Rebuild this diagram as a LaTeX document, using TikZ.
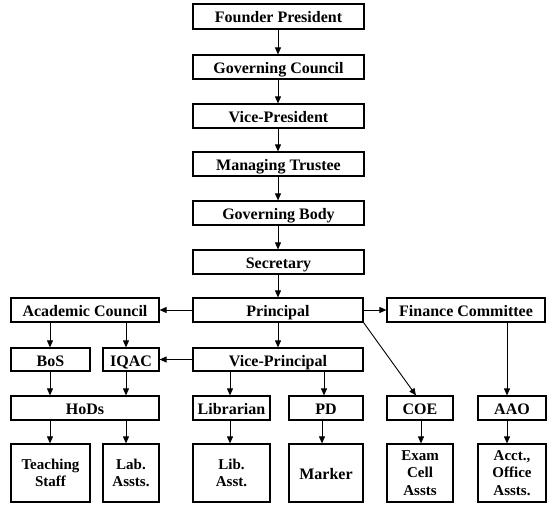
\documentclass[tikz,border=0pt]{standalone}
\usepackage{fontspec}
\setmainfont{Liberation Serif}
\usetikzlibrary{arrows.meta}
\begin{document}
\begin{tikzpicture}[x=1pt,y=-1pt,
  box/.style={draw, line width=1.2pt, inner sep=0pt, align=center,
    font=\bfseries\fontsize{16}{18}\selectfont},
  oneline/.style={box, text height=13pt, text depth=0pt},
  small/.style={box, font=\bfseries\fontsize{15}{17.5}\selectfont},
  arr/.style={line width=0.9pt, -{Triangle[length=7pt,width=6pt]}}]
\useasboundingbox (0,0) rectangle (553,510);
% top chain
\node[oneline, minimum width=171pt, minimum height=25pt] (fp) at (278.5,16.5) {Founder President};
\node[oneline, minimum width=171pt, minimum height=24pt] (gc) at (278.5,67) {Governing Council};
\node[oneline, minimum width=171pt, minimum height=24pt] (vp) at (278.5,116) {Vice-President};
\node[oneline, minimum width=171pt, minimum height=24pt] (mt) at (278.5,164) {Managing Trustee};
\node[oneline, minimum width=171pt, minimum height=24pt] (gb) at (278.5,213) {Governing Body};
\node[oneline, minimum width=171pt, minimum height=24pt] (sec) at (278.5,262) {Secretary};
% row principal
\node[oneline, minimum width=170pt, minimum height=24pt] (prin) at (278,310) {Principal};
\node[oneline, minimum width=148pt, minimum height=24pt] (ac) at (85,310) {Academic Council};
\node[oneline, minimum width=158pt, minimum height=24pt] (fc) at (466,310) {Finance Committee};
% row 3
\node[oneline, minimum width=79pt, minimum height=23pt] (bos) at (50.5,359.5) {BoS};
\node[oneline, minimum width=56pt, minimum height=23pt] (iqac) at (131,359.5) {IQAC};
\node[oneline, minimum width=170pt, minimum height=23pt] (vpr) at (278,359.5) {Vice-Principal};
% row 4
\node[oneline, minimum width=148pt, minimum height=24pt] (hods) at (85,408) {HoDs};
\node[oneline, minimum width=77pt, minimum height=24pt] (lib) at (231.5,408) {Librarian};
\node[oneline, minimum width=74pt, minimum height=24pt] (pd) at (326,408) {PD};
\node[oneline, minimum width=66pt, minimum height=24pt] (coe) at (420,408) {COE};
\node[oneline, minimum width=68pt, minimum height=24pt] (aao) at (512,408) {AAO};
% row 5
\node[small, minimum width=79pt, minimum height=58pt] (ts) at (50.5,473) {Teaching\\Staff};
\node[small, minimum width=56pt, minimum height=58pt] (lab) at (131,473) {Lab.\\Assts.};
\node[small, minimum width=77pt, minimum height=58pt] (libas) at (231.5,473) {Lib.\\Asst.};
\node[oneline, minimum width=74pt, minimum height=58pt] (mk) at (326,473) {Marker};
\node[small, minimum width=66pt, minimum height=58pt] (ex) at (420,473) {Exam\\Cell\\Assts};
\node[small, minimum width=68pt, minimum height=58pt] (acc) at (512,473) {Acct.,\\Office\\Assts.};
% column guides
\coordinate (xa) at (278,0);
\coordinate (xb) at (50,0);
\coordinate (xc) at (126,0);
\coordinate (xd) at (230,0);
\coordinate (xe) at (324,0);
\coordinate (xf) at (322,0);
\coordinate (xg) at (421,0);
\coordinate (xh) at (507,0);
% arrows top chain
\draw[arr] (fp.south -| xa) -- (gc.north -| xa);
\draw[arr] (gc.south -| xa) -- (vp.north -| xa);
\draw[arr] (vp.south -| xa) -- (mt.north -| xa);
\draw[arr] (mt.south -| xa) -- (gb.north -| xa);
\draw[arr] (gb.south -| xa) -- (sec.north -| xa);
\draw[arr] (sec.south -| xa) -- (prin.north -| xa);
% principal
\draw[arr] (prin.west) -- (ac.east);
\draw[arr] (prin.east) -- (fc.west);
\draw[arr] (prin.south -| xa) -- (vpr.north -| xa);
\draw[arr] (prin.south east) -- ([xshift=-4pt]coe.north);
% academic council
\draw[arr] (ac.south -| xb) -- (bos.north -| xb);
\draw[arr] (ac.south -| xc) -- (iqac.north -| xc);
\draw[arr] (vpr.west) -- (iqac.east);
\draw[arr] (bos.south -| xb) -- (hods.north -| xb);
\draw[arr] (iqac.south -| xc) -- (hods.north -| xc);
\draw[arr] (hods.south -| xb) -- (ts.north -| xb);
\draw[arr] (hods.south -| xc) -- (lab.north -| xc);
% vice-principal
\draw[arr] (vpr.south -| xd) -- (lib.north -| xd);
\draw[arr] (vpr.south -| xe) -- (pd.north -| xe);
\draw[arr] (lib.south -| xd) -- (libas.north -| xd);
\draw[arr] (pd.south -| xf) -- (mk.north -| xf);
% right side
\draw[arr] (coe.south -| xg) -- (ex.north -| xg);
\draw[arr] (fc.south -| xh) -- (aao.north -| xh);
\draw[arr] (aao.south -| xh) -- (acc.north -| xh);
\end{tikzpicture}
\end{document}
